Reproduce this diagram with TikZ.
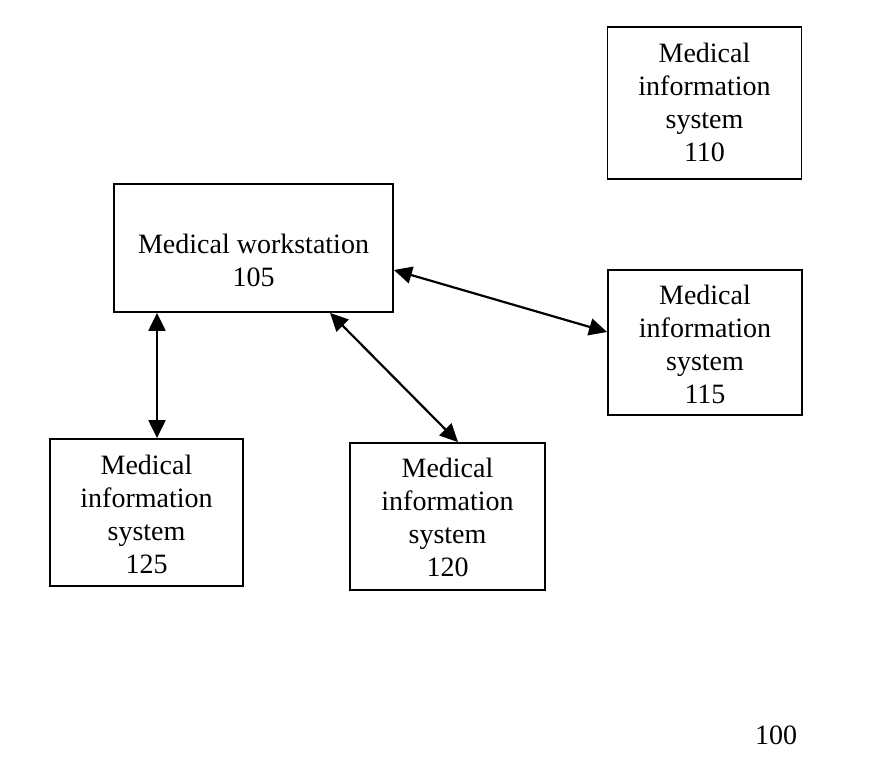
\documentclass[tikz,border=0pt]{standalone}
\usepackage{fontspec}
\setmainfont{Liberation Serif}
\usetikzlibrary{arrows.meta}
\begin{document}
\begin{tikzpicture}[x=1pt,y=-1pt,
  box/.style={draw=black,line width=1.8pt,inner sep=0pt},
  txt/.style={align=center,font=\fontsize{28}{33}\selectfont,inner sep=0pt},
  link/.style={line width=2.2pt,{Triangle[length=18pt,width=17pt]}-{Triangle[length=18pt,width=17pt]}}]
\useasboundingbox (0,0) rectangle (870,767);
% boxes
\node[box,minimum width=194pt,minimum height=152pt] (b110) at (704.5,103) {};
\node[txt] (t110) at (704.5,102) {Medical\\information\\system\\110};
\node[box,minimum width=279pt,minimum height=128pt] (b105) at (253.5,248) {};
\node[txt] (t105) at (253.5,260) {Medical workstation\\105};
\node[box,minimum width=194pt,minimum height=145pt] (b115) at (705,342.5) {};
\node[txt] (t115) at (705,344) {Medical\\information\\system\\115};
\node[box,minimum width=193pt,minimum height=147pt] (b125) at (146.5,512.5) {};
\node[txt] (t125) at (146.5,514) {Medical\\information\\system\\125};
\node[box,minimum width=195pt,minimum height=147pt] (b120) at (447.5,516.5) {};
\node[txt] (t120) at (447.5,517.5) {Medical\\information\\system\\120};
\node[txt] (l100) at (776,735) {100};
% connectors
\draw[link] ([yshift=-22pt]b105.east) -- ([yshift=10.5pt]b115.west);
\draw[link] ([xshift=76.5pt]b105.south) -- ([xshift=10.5pt]b120.north);
\draw[link] (b105.south -| 157,0) -- (b125.north -| 157,0);
\end{tikzpicture}
\end{document}
